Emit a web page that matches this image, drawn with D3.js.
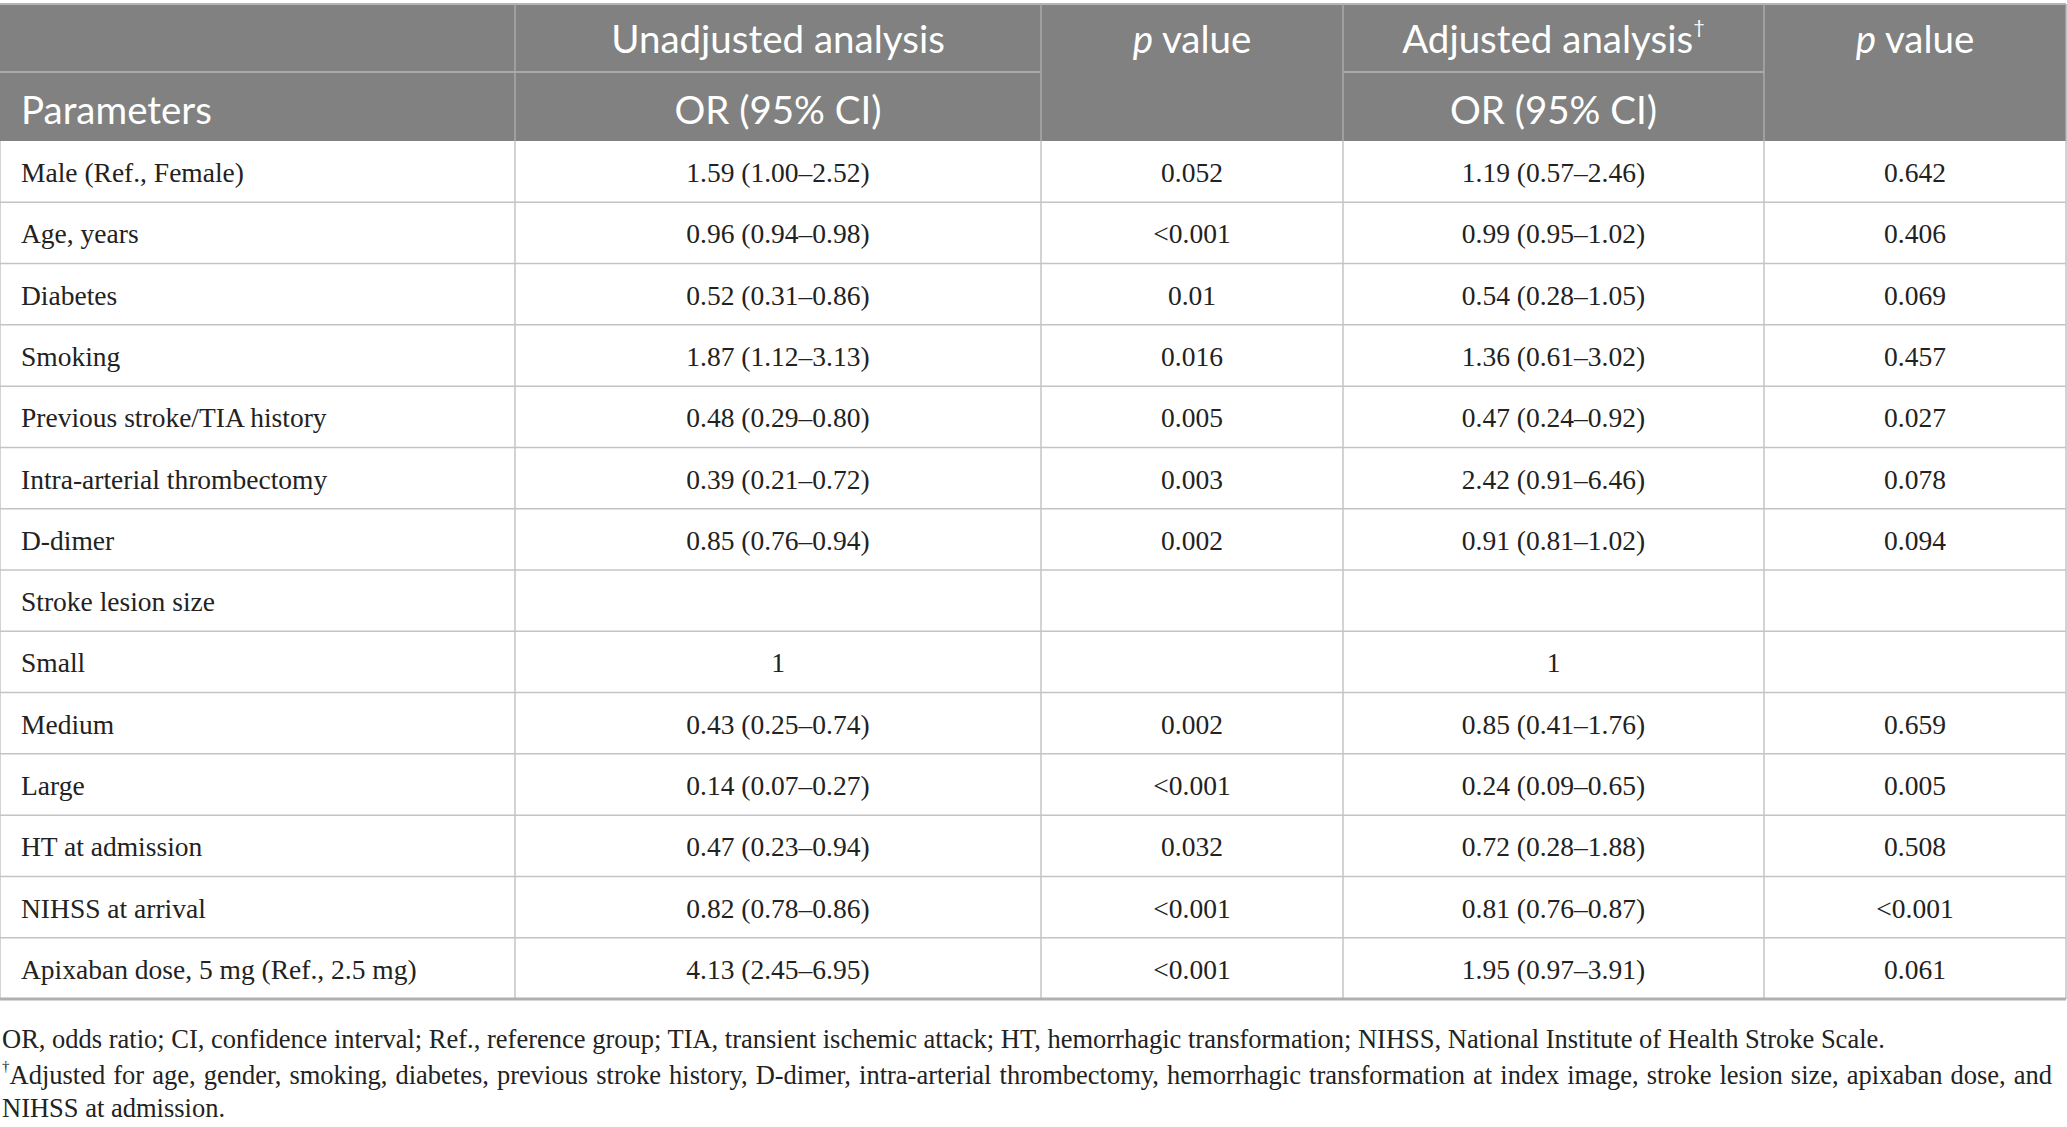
<!DOCTYPE html>
<html>
<head>
<meta charset="utf-8">
<script src="https://cdn.jsdelivr.net/npm/d3@7"></script>
<style>
  body { margin: 0; background: #fff; }
  svg { display: block; }
</style>
</head>
<body>
<script>
// table content
const parameters = [
  'Male (Ref., Female)', 'Age, years', 'Diabetes', 'Smoking',
  'Previous stroke/TIA history', 'Intra-arterial thrombectomy', 'D-dimer',
  'Stroke lesion size', 'Small', 'Medium', 'Large', 'HT at admission',
  'NIHSS at arrival', 'Apixaban dose, 5 mg (Ref., 2.5 mg)'
];
const unadjustedOR = [
  '1.59 (1.00\u20132.52)', '0.96 (0.94\u20130.98)', '0.52 (0.31\u20130.86)',
  '1.87 (1.12\u20133.13)', '0.48 (0.29\u20130.80)', '0.39 (0.21\u20130.72)',
  '0.85 (0.76\u20130.94)', '', '1', '0.43 (0.25\u20130.74)',
  '0.14 (0.07\u20130.27)', '0.47 (0.23\u20130.94)', '0.82 (0.78\u20130.86)',
  '4.13 (2.45\u20136.95)'
];
const unadjustedP = [
  '0.052', '<0.001', '0.01', '0.016', '0.005', '0.003', '0.002', '', '',
  '0.002', '<0.001', '0.032', '<0.001', '<0.001'
];
const adjustedOR = [
  '1.19 (0.57\u20132.46)', '0.99 (0.95\u20131.02)', '0.54 (0.28\u20131.05)',
  '1.36 (0.61\u20133.02)', '0.47 (0.24\u20130.92)', '2.42 (0.91\u20136.46)',
  '0.91 (0.81\u20131.02)', '', '1', '0.85 (0.41\u20131.76)',
  '0.24 (0.09\u20130.65)', '0.72 (0.28\u20131.88)', '0.81 (0.76\u20130.87)',
  '1.95 (0.97\u20133.91)'
];
const adjustedP = [
  '0.642', '0.406', '0.069', '0.457', '0.027', '0.078', '0.094', '', '',
  '0.659', '0.005', '0.508', '<0.001', '0.061'
];
const footnotes = [
  'OR, odds ratio; CI, confidence interval; Ref., reference group; TIA, transient ischemic attack; HT, hemorrhagic transformation; NIHSS, National Institute of Health Stroke Scale.',
  '\u2020Adjusted for age, gender, smoking, diabetes, previous stroke history, D-dimer, intra-arterial thrombectomy, hemorrhagic transformation at index image, stroke lesion size, apixaban dose, and',
  'NIHSS at admission.'
];

const W = 2067, H = 1127;
const colEdges = [0, 515, 1041, 1343, 1764, 2066];
const tableTop = 4, headMid = 72, headBottom = 141, tableBottom = 999;

const serif = '"Liberation Serif", "DejaVu Serif", serif';
const sans = 'Lato, "Open Sans", sans-serif';
const textColor = '#222';
const headBg = '#808180';

const svg = d3.select('body').append('svg')
  .attr('width', W).attr('height', H);

const rowBand = d3.scaleBand()
  .domain(d3.range(parameters.length))
  .range([headBottom, tableBottom]);

const columns = [parameters, unadjustedOR, unadjustedP, adjustedOR, adjustedP];
const colCenter = i => (colEdges[i] + colEdges[i + 1]) / 2;

// header background
svg.append('rect')
  .attr('x', 0).attr('y', tableTop)
  .attr('width', colEdges[5]).attr('height', headBottom - tableTop)
  .attr('fill', headBg);

// header grid lines (lighter than the fill)
const headLine = '#a9aaa9';
svg.append('line')
  .attr('x1', 0).attr('x2', colEdges[5]).attr('y1', tableTop).attr('y2', tableTop)
  .attr('stroke', '#b4b4b4').attr('stroke-width', 2);
// middle line under parameters and the two OR columns
[[0, 1], [1, 2], [3, 4]].forEach(([a, b]) => {
  svg.append('line')
    .attr('x1', colEdges[a]).attr('x2', colEdges[b])
    .attr('y1', headMid).attr('y2', headMid)
    .attr('stroke', headLine).attr('stroke-width', 2);
});
colEdges.slice(1).forEach(x => {
  svg.append('line')
    .attr('x1', x).attr('x2', x).attr('y1', tableTop).attr('y2', headBottom)
    .attr('stroke', headLine).attr('stroke-width', 1.5);
});

// header text
const headFont = 38.5;
const head = svg.append('g')
  .attr('font-family', sans).attr('font-size', headFont).attr('fill', '#fff');
const row1Y = 38, row2Y = 109;

head.append('text').attr('x', 21).attr('y', row2Y)
  .attr('dominant-baseline', 'central').text('Parameters');
head.append('text').attr('x', colCenter(1)).attr('y', row1Y)
  .attr('text-anchor', 'middle').attr('dominant-baseline', 'central')
  .text('Unadjusted analysis');
head.append('text').attr('x', colCenter(1)).attr('y', row2Y)
  .attr('text-anchor', 'middle').attr('dominant-baseline', 'central')
  .text('OR (95% CI)');
[2, 4].forEach(i => {
  const t = head.append('text').attr('x', colCenter(i)).attr('y', row1Y)
    .attr('text-anchor', 'middle').attr('dominant-baseline', 'central');
  t.append('tspan').attr('font-style', 'italic').text('p');
  t.append('tspan').text(' value');
});
const adj = head.append('text').attr('x', colCenter(3)).attr('y', row1Y)
  .attr('text-anchor', 'middle').attr('dominant-baseline', 'central');
adj.append('tspan').text('Adjusted analysis');
adj.append('tspan').attr('font-size', 20).attr('dy', -12).text('\u2020');
head.append('text').attr('x', colCenter(3)).attr('y', row2Y)
  .attr('text-anchor', 'middle').attr('dominant-baseline', 'central')
  .text('OR (95% CI)');

// body grid
const bodyLine = '#c4c4c4';
const grid = svg.append('g').attr('stroke', bodyLine).attr('stroke-width', 1.5);
grid.selectAll('line.h')
  .data(d3.range(1, parameters.length))
  .join('line').attr('class', 'h')
  .attr('x1', 0).attr('x2', colEdges[5])
  .attr('y1', d => rowBand(d)).attr('y2', d => rowBand(d));
grid.selectAll('line.v')
  .data(colEdges)
  .join('line').attr('class', 'v')
  .attr('x1', d => d).attr('x2', d => d)
  .attr('y1', headBottom).attr('y2', tableBottom);
svg.append('line')
  .attr('x1', 0).attr('x2', colEdges[5]).attr('y1', tableBottom).attr('y2', tableBottom)
  .attr('stroke', '#b0b0b0').attr('stroke-width', 3);

// body cells
const bodyFont = 27.5;
const body = svg.append('g')
  .attr('font-family', serif).attr('font-size', bodyFont).attr('fill', textColor);
columns.forEach((col, ci) => {
  body.selectAll(null)
    .data(col)
    .join('text')
    .attr('x', ci === 0 ? 21 : colCenter(ci))
    .attr('y', (d, i) => rowBand(i) + rowBand.bandwidth() / 2 + 1)
    .attr('text-anchor', ci === 0 ? 'start' : 'middle')
    .attr('dominant-baseline', 'central')
    .text(d => d);
});

// footnotes; the middle line is justified to the full width like the source
const footY = [1039, 1075, 1108];
const justifyTo = 2052;
const foot = svg.append('g')
  .attr('font-family', serif).attr('font-size', 26.5).attr('fill', textColor);
footnotes.forEach((f, i) => {
  const t = foot.append('text').attr('x', 2).attr('y', footY[i])
    .attr('dominant-baseline', 'central');
  if (f.startsWith('\u2020')) {
    t.append('tspan').attr('font-size', 15).attr('dy', -9).text('\u2020');
    t.append('tspan').attr('dy', 9).text(f.slice(1));
  } else {
    t.text(f);
  }
  if (i === 1) {
    const natural = t.node().getComputedTextLength();
    const spaces = f.split(' ').length - 1;
    t.attr('word-spacing', Math.max(0, (justifyTo - 2 - natural) / spaces));
  }
});
</script>
</body>
</html>
